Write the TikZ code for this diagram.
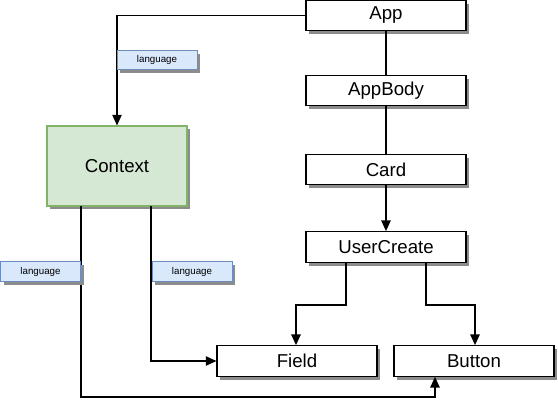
\documentclass[tikz,border=0pt]{standalone}
\usepackage{fontspec}
\setmainfont{Liberation Sans}
\usetikzlibrary{arrows.meta,shadows,positioning}
\definecolor{lblfill}{HTML}{DAE8FC}
\definecolor{lbldraw}{HTML}{6C8EBF}
\definecolor{ctxfill}{HTML}{D5E8D4}
\definecolor{ctxdraw}{HTML}{82B366}
\tikzset{
  shad/.style={drop shadow={shadow xshift=2.5pt,shadow yshift=-2.5pt,fill=black!45,opacity=1}},
  comp/.style={draw=black,fill=white,line width=0.8pt,minimum width=120pt,minimum height=23pt,inner sep=0pt,font=\fontsize{14}{16}\selectfont,shad},
  ctx/.style={draw=ctxdraw,fill=ctxfill,line width=0.8pt,minimum width=105pt,minimum height=60pt,inner sep=0pt,font=\fontsize{14}{16}\selectfont,shad},
  lbl/.style={draw=lbldraw,fill=lblfill,line width=0.6pt,minimum width=60pt,minimum height=14.5pt,inner sep=0pt,font=\fontsize{7.3}{8}\selectfont,shad},
  conn/.style={line width=1.1pt,draw=black},
  arr/.style={conn,-{Triangle[length=8pt,width=7pt]}}
}
\begin{document}
\begin{tikzpicture}[x=0.75pt,y=-0.75pt]
\useasboundingbox (0,0) rectangle (558,407);
\node[comp] (app) at (386,15.5) {App};
\node[comp] (appbody) at (386,90.5) {AppBody};
\node[comp] (card) at (386,169.5) {Card};
\node[comp] (uc) at (386,247) {UserCreate};
\node[comp] (field) at (297,361) {Field};
\node[comp] (button) at (474,361) {Button};
\node[ctx] (ctx) at (117,166) {Context};
% connectors
\draw[arr] (app.west) -| (ctx.north);
\draw[conn] (app) -- (appbody);
\draw[conn] (appbody) -- (card);
\draw[arr] (card) -- (uc);
\coordinate (ucl) at (346,262);
\coordinate (ucr) at (426,262);
\draw[arr] (ucl) -- (346,305) -| (field.north -| 296,0);
\draw[arr] (ucr) -- (426,305) -| (button.north -| 475,0);
\coordinate (cr) at (151,206);
\coordinate (cl) at (81,206);
\draw[arr] (cr) |- (field.west);
\draw[arr] (cl) -- (81,397) -| (button.south -| 435,0);
% labels
\node[lbl] (l1) at (157,60) {language};
\node[lbl] (l2) at (40.5,271.5) {language};
\node[lbl] (l3) at (192,271.5) {language};
\end{tikzpicture}
\end{document}
